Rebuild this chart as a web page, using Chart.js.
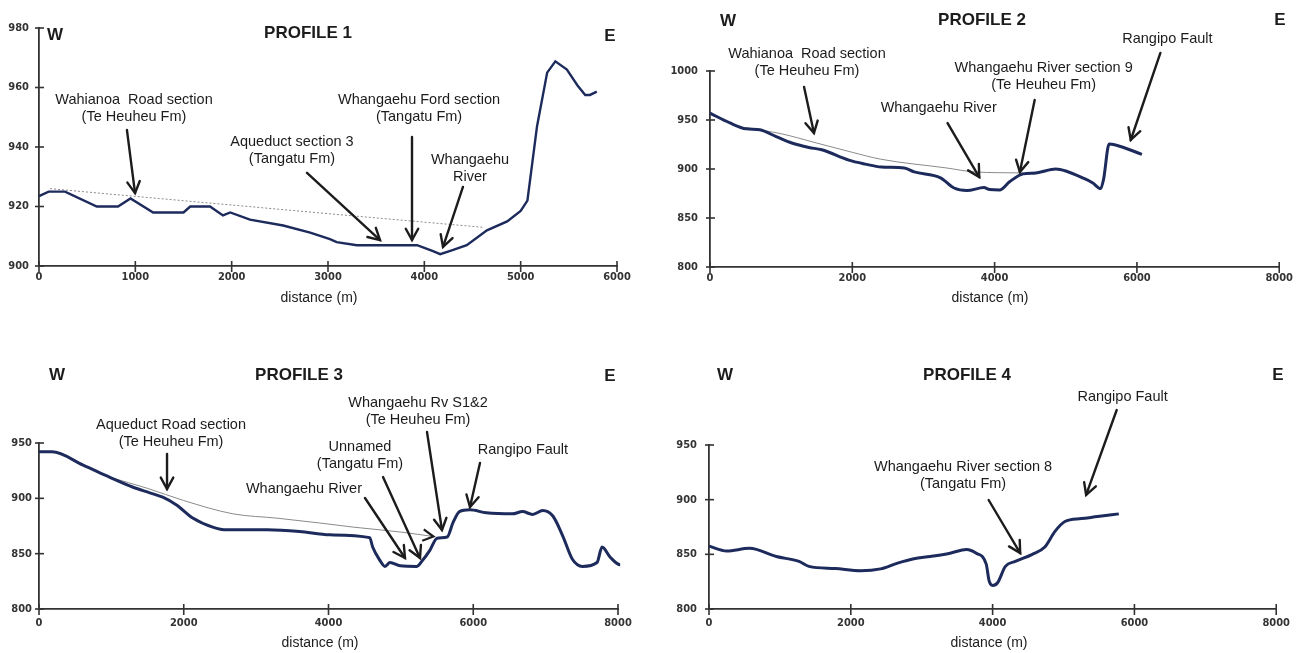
<!DOCTYPE html>
<html>
<head>
<meta charset="utf-8">
<title>Profiles 1-4</title>
<script src="https://cdn.jsdelivr.net/npm/chart.js@4.4.1/dist/chart.umd.min.js"></script>
<style>
  html, body { margin: 0; padding: 0; background: #fff; }
  #wrap { position: relative; width: 1298px; height: 653px; overflow: hidden; }
  canvas { position: absolute; }
</style>
</head>
<body>
<div id="wrap">
  <canvas id="p1" width="649" height="326" style="left:0;top:0"></canvas>
  <canvas id="p2" width="649" height="326" style="left:649px;top:0"></canvas>
  <canvas id="p3" width="649" height="327" style="left:0;top:326px"></canvas>
  <canvas id="p4" width="649" height="327" style="left:649px;top:326px"></canvas>
</div>
<script>
// ============================================
// DATA (distance m / elevation m)
// ============================================
const p1Dist  = [0, 100, 270, 600, 820, 950, 1185, 1500, 1570, 1775, 1910, 1985, 2190, 2535, 2815, 3020, 3090, 3300, 3925, 4090, 4165, 4300, 4440, 4650, 4860, 5000, 5070, 5170, 5275, 5360, 5480, 5590, 5670, 5720, 5790];
const p1Elev  = [923.5, 925, 925, 920, 920, 922.7, 918, 918, 920, 920, 917, 918, 915.6, 913.6, 911.2, 909, 908, 907, 907, 905, 904, 905.4, 907, 912, 915, 918.5, 922, 947, 965, 968.8, 966, 960.7, 957.5, 957.5, 958.6];
const p1TrendDist = [115, 1000, 2000, 3000, 4610];
const p1TrendElev = [926, 923.4, 920.5, 917.6, 913];
const p1XTicks = [0, 1000, 2000, 3000, 4000, 5000, 6000];
const p1YTicks = [900, 920, 940, 960, 980];

const p2Dist  = [0, 280, 510, 700, 930, 1150, 1390, 1570, 1950, 2180, 2410, 2730, 2870, 3240, 3430, 3610, 3850, 3930, 4070, 4210, 4400, 4580, 4860, 5000, 5235, 5375, 5490, 5530, 5610, 5700, 6070];
const p2Elev  = [957, 947, 941, 940, 933, 926.5, 922, 919.6, 909, 905, 902, 901, 897, 891, 880.6, 878, 881, 879, 878.6, 887, 895, 896, 900, 898, 891, 886, 880, 889, 925.5, 924.5, 915];
const p2TrendDist = [510, 1000, 1500, 2000, 2400, 3330, 3720, 4400];
const p2TrendElev = [942, 936, 926.5, 917, 910, 901, 897, 896];
const p2XTicks = [0, 2000, 4000, 6000, 8000];
const p2YTicks = [800, 850, 900, 950, 1000];

const p3Dist  = [0, 180, 610, 980, 1300, 1530, 1710, 1900, 2130, 2400, 2590, 3150, 3600, 4020, 4570, 4610, 4710, 4780, 4850, 4990, 5220, 5300, 5400, 5500, 5640, 5720, 5810, 5950, 6180, 6540, 6680, 6820, 6960, 7100, 7240, 7370, 7510, 7710, 7780, 7890, 8030, 8160];
const p3Elev  = [942, 942, 930, 919, 910, 905, 901, 894, 882, 874, 871.5, 871.5, 870, 867, 864.5, 856, 844, 838.5, 842, 839, 838.5, 844, 853, 864, 865, 878, 888, 889.6, 887, 886, 888, 885.5, 889, 884, 865.5, 845, 838.5, 842, 856, 847, 840, 842];
const p3TrendDist = [980, 1500, 2000, 2680, 3300, 3880, 4340, 5000, 5450];
const p3TrendElev = [919, 909, 898, 886, 882, 877.7, 874, 869.5, 865.5];
const p3XTicks = [0, 2000, 4000, 6000, 8000];
const p3YTicks = [800, 850, 900, 950];

const p4Dist  = [0, 250, 570, 950, 1270, 1410, 1780, 2140, 2420, 2660, 2890, 3120, 3400, 3630, 3770, 3910, 3950, 4000, 4070, 4180, 4320, 4560, 4740, 4880, 5020, 5250, 5480, 5780];
const p4Elev  = [857.5, 853, 855.5, 848, 843.5, 839, 837, 835, 836.7, 842, 846, 848, 851, 854.5, 851, 841, 826, 821.6, 824, 839, 843.5, 850, 857, 871, 880, 882.7, 884.5, 887];
const p4XTicks = [0, 2000, 4000, 6000, 8000];
const p4YTicks = [800, 850, 900, 950];

// annotations: label lines anchored at (x, y) of first line; arrows as [x0, y0, x1(tip), y1(tip)]
const p1Notes = [
  { lines: ['Wahianoa  Road section', '(Te Heuheu Fm)'], x: 986, y: 955.8 },
  { lines: ['Aqueduct section 3', '(Tangatu Fm)'], x: 2626, y: 941.7 },
  { lines: ['Whangaehu Ford section', '(Tangatu Fm)'], x: 3945, y: 955.8 },
  { lines: ['Whangaehu', 'River'], x: 4474, y: 935.6 }
];
const p1Arrows = [[913, 945.7, 997, 924.5], [2782, 931.3, 3540, 908.7], [3872, 943.4, 3872, 908.7], [4401, 926.6, 4194, 906.4]];

const p2Notes = [
  { lines: ['Wahianoa  Road section', '(Te Heuheu Fm)'], x: 1363, y: 1017.3 },
  { lines: ['Whangaehu River'], x: 3214, y: 962.2 },
  { lines: ['Whangaehu River section 9', '(Te Heuheu Fm)'], x: 4689, y: 1003.1 },
  { lines: ['Rangipo Fault'], x: 6428, y: 1032.7 }
];
const p2Arrows = [[1322, 983.7, 1461, 936.7], [3339, 946.9, 3784, 891.8], [4563, 970.4, 4355, 896.9], [6330, 1018.4, 5913, 929.6]];

const p3Notes = [
  { lines: ['Aqueduct Road section', '(Te Heuheu Fm)'], x: 1824, y: 966.3 },
  { lines: ['Whangaehu River'], x: 3661, y: 908.4 },
  { lines: ['Unnamed', '(Tangatu Fm)'], x: 4435, y: 946.4 },
  { lines: ['Whangaehu Rv S1&2', '(Te Heuheu Fm)'], x: 5237, y: 986.1 },
  { lines: ['Rangipo Fault'], x: 6687, y: 943.7 }
];
const p3Arrows = [[1769, 940.1, 1769, 908.4], [4504, 900.3, 5057, 846.1], [4753, 919.3, 5264, 846.1], [5361, 959.9, 5568, 871.4], [6093, 931.9, 5955, 892.2]];

const p4Notes = [
  { lines: ['Whangaehu River section 8', '(Tangatu Fm)'], x: 3583, y: 929.9 },
  { lines: ['Rangipo Fault'], x: 5833, y: 993.9 }
];
const p4Arrows = [[3944, 899.7, 4389, 851.2], [5750, 982, 5319, 904.3]];

// ============================================
// DRAWING HELPERS
// ============================================
const INK = '#1c1c1c';
const NAVY = '#1d2a5c';
const TICK_FONT = { family: "'Liberation Sans Narrow', 'DejaVu Sans Condensed', 'Liberation Sans', Arial, sans-serif", size: 11, weight: 'bold' };

function pts(xs, ys) {
  return xs.map(function(v, i) { return { x: v, y: ys[i] }; });
}

function arrowHead(ctx, x0, y0, x1, y1, len) {
  const a = Math.atan2(y1 - y0, x1 - x0);
  ctx.beginPath();
  ctx.moveTo(x1 - len * Math.cos(a - 0.5), y1 - len * Math.sin(a - 0.5));
  ctx.lineTo(x1, y1);
  ctx.lineTo(x1 - len * Math.cos(a + 0.5), y1 - len * Math.sin(a + 0.5));
  ctx.stroke();
}

const profileDecor = {
  id: 'profileDecor',
  afterDraw: function(chart, args, o) {
    const ctx = chart.ctx, xs = chart.scales.x, ys = chart.scales.y;
    ctx.save();

    // tick marks crossing the axes
    ctx.strokeStyle = '#333';
    ctx.lineWidth = 1.6;
    xs.ticks.forEach(function(t) {
      const px = xs.getPixelForValue(t.value);
      ctx.beginPath(); ctx.moveTo(px, xs.top - 5); ctx.lineTo(px, xs.top + 6); ctx.stroke();
    });
    ys.ticks.forEach(function(t) {
      const py = ys.getPixelForValue(t.value);
      ctx.beginPath(); ctx.moveTo(ys.right - 4, py); ctx.lineTo(ys.right + 5, py); ctx.stroke();
    });

    // headings
    ctx.fillStyle = INK;
    ctx.textAlign = 'center';
    ctx.textBaseline = 'middle';
    ctx.font = "bold 17px 'Liberation Sans', Arial, sans-serif";
    ctx.fillText(o.title, o.titlePos[0], o.titlePos[1]);
    ctx.fillText('W', o.wPos[0], o.wPos[1]);
    ctx.fillText('E', o.ePos[0], o.ePos[1]);
    ctx.font = "14px 'Liberation Sans', Arial, sans-serif";
    ctx.fillText('distance (m)', o.xTitlePos[0], o.xTitlePos[1]);

    // trend line arrow head (profile 3)
    if (o.trendHead) {
      const d = chart.data.datasets[1].data;
      const a = d[d.length - 2], b = d[d.length - 1];
      ctx.strokeStyle = INK; ctx.lineWidth = 2.2;
      arrowHead(ctx, xs.getPixelForValue(a.x), ys.getPixelForValue(a.y), xs.getPixelForValue(b.x), ys.getPixelForValue(b.y), 12);
    }

    // labels
    ctx.font = "14.5px 'Liberation Sans', Arial, sans-serif";
    o.notes.forEach(function(n) {
      const px = xs.getPixelForValue(n.x), py = ys.getPixelForValue(n.y);
      n.lines.forEach(function(s, i) { ctx.fillText(s, px, py + i * 17); });
    });

    // arrows
    ctx.strokeStyle = INK;
    ctx.lineWidth = 2.4;
    ctx.lineCap = 'round';
    o.arrows.forEach(function(a) {
      const x0 = xs.getPixelForValue(a[0]), y0 = ys.getPixelForValue(a[1]);
      const x1 = xs.getPixelForValue(a[2]), y1 = ys.getPixelForValue(a[3]);
      ctx.beginPath(); ctx.moveTo(x0, y0); ctx.lineTo(x1, y1); ctx.stroke();
      arrowHead(ctx, x0, y0, x1, y1, 13);
    });
    ctx.restore();
  }
};

function makeProfile(id, p) {
  const datasets = [{
    data: pts(p.dist, p.elev),
    borderColor: NAVY,
    borderWidth: p.lineWidth,
    cubicInterpolationMode: p.smooth ? 'monotone' : 'default',
    tension: 0,
    pointRadius: 0,
    clip: false
  }];
  if (p.trendDist) {
    datasets.push({
      data: pts(p.trendDist, p.trendElev),
      borderColor: '#8a8a8a',
      borderWidth: 1,
      borderDash: p.trendDash || [],
      cubicInterpolationMode: 'monotone',
      pointRadius: 0,
      clip: false
    });
  }
  return new Chart(document.getElementById(id), {
    type: 'line',
    data: { datasets: datasets },
    plugins: [profileDecor],
    options: {
      responsive: false,
      animation: false,
      layout: { padding: p.pad },
      plugins: {
        legend: { display: false },
        tooltip: { enabled: false },
        profileDecor: p.decor
      },
      scales: {
        x: {
          type: 'linear',
          min: p.xTicks[0],
          max: p.xTicks[p.xTicks.length - 1],
          afterBuildTicks: function(s) { s.ticks = p.xTicks.map(function(v) { return { value: v }; }); },
          afterFit: function(s) { s.height = p.xH; },
          grid: { display: true, drawOnChartArea: false, drawTicks: false },
          border: { color: '#333', width: 1.8 },
          ticks: { autoSkip: false, maxRotation: 0, padding: p.xPad, color: '#333', font: TICK_FONT,
                   callback: function(v) { return String(v); } }
        },
        y: {
          min: p.yTicks[0],
          max: p.yTicks[p.yTicks.length - 1],
          afterBuildTicks: function(s) { s.ticks = p.yTicks.map(function(v) { return { value: v }; }); },
          afterFit: function(s) { s.width = p.yW; },
          grid: { display: true, drawOnChartArea: false, drawTicks: false },
          border: { color: '#333', width: 1.8 },
          ticks: { autoSkip: false, padding: p.yPad, color: '#333', font: TICK_FONT,
                   callback: function(v) { return String(v); } }
        }
      }
    }
  });
}

// ============================================
// PANELS
// ============================================
makeProfile('p1', {
  dist: p1Dist, elev: p1Elev, trendDist: p1TrendDist, trendElev: p1TrendElev, trendDash: [2, 2],
  xTicks: p1XTicks, yTicks: p1YTicks, lineWidth: 2.4, smooth: false,
  pad: { left: 0, top: 28, right: 32, bottom: 0 }, yW: 39, xH: 60, xPad: 5, yPad: 10,
  decor: { title: 'PROFILE 1', titlePos: [308, 33], wPos: [55, 35], ePos: [610, 36], xTitlePos: [319, 298], notes: p1Notes, arrows: p1Arrows }
});

makeProfile('p2', {
  dist: p2Dist, elev: p2Elev, trendDist: p2TrendDist, trendElev: p2TrendElev,
  xTicks: p2XTicks, yTicks: p2YTicks, lineWidth: 3, smooth: true,
  pad: { left: 21, top: 71, right: 13, bottom: 0 }, yW: 40, xH: 59, xPad: 5, yPad: 12,
  decor: { title: 'PROFILE 2', titlePos: [333, 20], wPos: [79, 21], ePos: [631, 20], xTitlePos: [341, 298], notes: p2Notes, arrows: p2Arrows }
});

makeProfile('p3', {
  dist: p3Dist, elev: p3Elev, trendDist: p3TrendDist, trendElev: p3TrendElev,
  xTicks: p3XTicks, yTicks: p3YTicks, lineWidth: 3, smooth: true,
  pad: { left: 0, top: 117, right: 31, bottom: 0 }, yW: 39, xH: 44, xPad: 8, yPad: 7,
  decor: { title: 'PROFILE 3', titlePos: [299, 49], wPos: [57, 49], ePos: [610, 50], xTitlePos: [320, 317], notes: p3Notes, arrows: p3Arrows, trendHead: true }
});

makeProfile('p4', {
  dist: p4Dist, elev: p4Elev,
  xTicks: p4XTicks, yTicks: p4YTicks, lineWidth: 3, smooth: true,
  pad: { left: 20, top: 119, right: 13, bottom: 0 }, yW: 40, xH: 44, xPad: 8, yPad: 12,
  decor: { title: 'PROFILE 4', titlePos: [318, 49], wPos: [76, 49], ePos: [629, 49], xTitlePos: [340, 317], notes: p4Notes, arrows: p4Arrows }
});
</script>
</body>
</html>
